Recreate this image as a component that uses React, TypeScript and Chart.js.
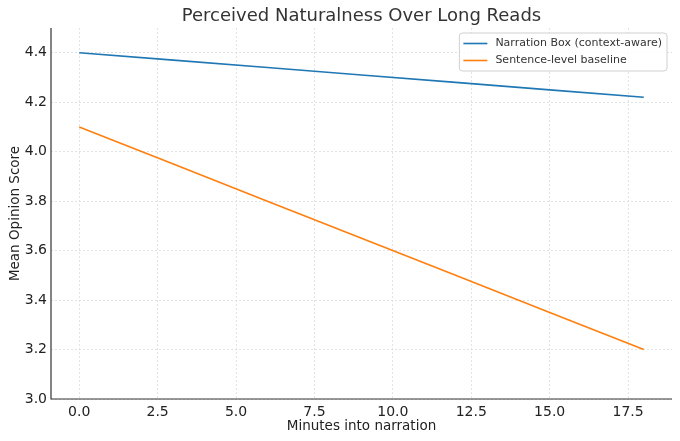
import React, { useRef, useEffect } from 'react';
import Chart from 'chart.js/auto';

const minutes = [0, 3, 6, 9, 12, 15, 18];
const narrationBox = [4.4, 4.37, 4.34, 4.31, 4.28, 4.25, 4.22];
const sentenceBaseline = [4.1, 3.95, 3.8, 3.65, 3.5, 3.35, 3.2];
const seriesLabels = ['Narration Box (context-aware)', 'Sentence-level baseline'];
const seriesColors = ['#1f77b4', '#ff7f0e'];
const xTicks = [0, 2.5, 5, 7.5, 10, 12.5, 15, 17.5];
const yTicks = [3.0, 3.2, 3.4, 3.6, 3.8, 4.0, 4.2, 4.4];

const FONT = "'DejaVu Sans', sans-serif";

// matplotlib-like spines, title and boxed legend
const decorPlugin = {
    id: 'decor',
    afterDraw(chart: any) {
        const { ctx, chartArea } = chart;
        ctx.save();
        // spines (left + bottom)
        ctx.strokeStyle = '#333333';
        ctx.lineWidth = 1.2;
        ctx.setLineDash([]);
        ctx.beginPath();
        ctx.moveTo(chartArea.left, chartArea.top);
        ctx.lineTo(chartArea.left, chartArea.bottom);
        ctx.lineTo(chartArea.right, chartArea.bottom);
        ctx.stroke();

        // title
        ctx.fillStyle = '#333333';
        ctx.font = `18px ${FONT}`;
        ctx.textAlign = 'center';
        ctx.textBaseline = 'middle';
        ctx.fillText('Perceived Naturalness Over Long Reads', (chartArea.left + chartArea.right) / 2, 16);

        // legend
        ctx.font = `11px ${FONT}`;
        const datasets = chart.data.datasets;
        const textW = Math.max(...datasets.map((d: any) => ctx.measureText(d.label).width));
        const boxW = 4 + 24 + 8 + textW + 5;
        const rowH = 17;
        const boxH = datasets.length * rowH + 4;
        const bx = chartArea.right - 5 - boxW;
        const by = chartArea.top + 5;
        ctx.fillStyle = 'rgba(255,255,255,0.85)';
        ctx.strokeStyle = '#d0d0d0';
        ctx.lineWidth = 1;
        ctx.beginPath();
        ctx.roundRect(bx, by, boxW, boxH, 3);
        ctx.fill();
        ctx.stroke();
        datasets.forEach((d: any, i: number) => {
            const cy = by + 2 + rowH * i + rowH / 2;
            ctx.strokeStyle = d.borderColor;
            ctx.lineWidth = 1.6;
            ctx.beginPath();
            ctx.moveTo(bx + 4, cy);
            ctx.lineTo(bx + 28, cy);
            ctx.stroke();
            ctx.fillStyle = '#333333';
            ctx.textAlign = 'left';
            ctx.textBaseline = 'middle';
            ctx.fillText(d.label, bx + 36, cy);
        });
        ctx.restore();
    },
};

export default function App() {
    const chartRef = useRef<HTMLCanvasElement | null>(null);
    const chartInstanceRef = useRef<Chart | null>(null);

    useEffect(() => {
        document.body.style.margin = '0';
        if (!chartRef.current) return;
        const ctx = chartRef.current.getContext('2d');
        if (!ctx) return;

        const datasets = [narrationBox, sentenceBaseline].map((values, idx) => ({
            label: seriesLabels[idx],
            data: minutes.map((m, i) => ({ x: m, y: values[i] })),
            borderColor: seriesColors[idx],
            backgroundColor: seriesColors[idx],
            borderWidth: 1.6,
            pointRadius: 0,
            tension: 0,
            fill: false,
        }));

        const gridCommon = {
            color: '#dcdcdc',
            lineWidth: 0.8,
            drawTicks: false,
            borderDash: [2, 2],
        };

        chartInstanceRef.current = new Chart(ctx, {
            type: 'line',
            data: { datasets },
            plugins: [decorPlugin],
            options: {
                animation: false,
                responsive: false,
                devicePixelRatio: 1,
                layout: { padding: { top: 28, right: 8, left: 0, bottom: 0 } },
                plugins: {
                    legend: { display: false },
                    title: { display: false },
                    tooltip: { enabled: false },
                },
                scales: {
                    x: {
                        type: 'linear',
                        min: -0.9,
                        max: 18.9,
                        afterBuildTicks: (scale: any) => {
                            scale.ticks = xTicks.map(v => ({ value: v }));
                        },
                        afterFit: (scale: any) => {
                            scale.height = 42;
                        },
                        grid: gridCommon,
                        border: { display: false, dash: [2, 2] },
                        ticks: {
                            color: '#222222',
                            font: { family: FONT, size: 14 },
                            padding: 5,
                            maxRotation: 0,
                            callback: (v: any) => Number(v).toFixed(1),
                        },
                        title: {
                            display: true,
                            text: 'Minutes into narration',
                            color: '#222222',
                            font: { family: FONT, size: 13.5 },
                            padding: { top: 2, bottom: 6 },
                        },
                    },
                    y: {
                        type: 'linear',
                        min: 3.0,
                        max: 4.5,
                        afterBuildTicks: (scale: any) => {
                            scale.ticks = yTicks.map(v => ({ value: v }));
                        },
                        afterFit: (scale: any) => {
                            scale.width = 51;
                        },
                        grid: gridCommon,
                        border: { display: false, dash: [2, 2] },
                        ticks: {
                            color: '#222222',
                            font: { family: FONT, size: 14 },
                            padding: 4,
                            callback: (v: any) => Number(v).toFixed(1),
                        },
                        title: {
                            display: true,
                            text: 'Mean Opinion Score',
                            color: '#222222',
                            font: { family: FONT, size: 13.5 },
                            padding: { top: 7, bottom: 2 },
                        },
                    },
                },
            } as any,
        });

        return () => {
            if (chartInstanceRef.current) {
                chartInstanceRef.current.destroy();
            }
        };
    }, []);

    return (
        <div>
            <canvas ref={chartRef} width={680} height={441} style={{ display: 'block' }} />
        </div>
    );
}
